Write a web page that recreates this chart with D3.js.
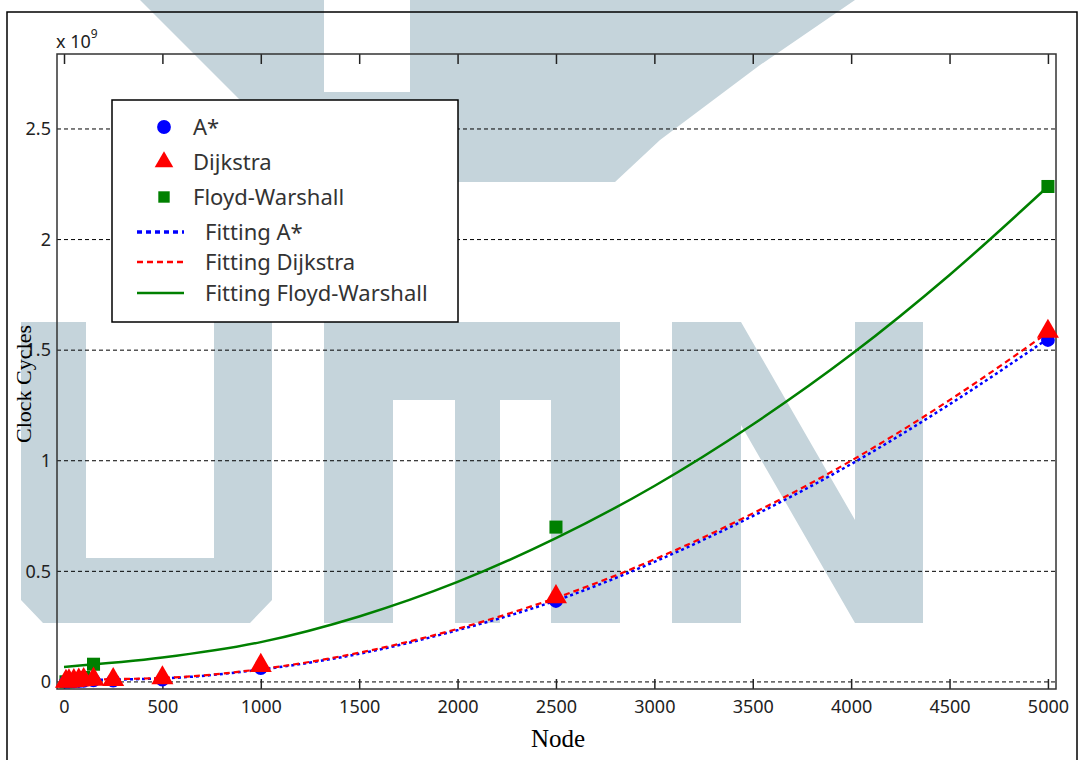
<!DOCTYPE html>
<html>
<head>
<meta charset="utf-8">
<script src="https://cdn.jsdelivr.net/npm/d3@7"></script>
<style>
  body { margin: 0; background: #fff; }
  svg { display: block; }
</style>
</head>
<body>
<div id="chart"></div>
<script>
// measured points (clock cycles, x 1e9)
const nodes = [10, 25, 50, 75, 100, 150, 250, 500, 1000, 2500, 5000];
const astar = [0.001, 0.002, 0.003, 0.004, 0.005, 0.007, 0.006, 0.010, 0.063, 0.366, 1.546];
const dijkstra = [0.002, 0.004, 0.006, 0.008, 0.010, 0.012, 0.010, 0.018, 0.074, 0.385, 1.585];
const fwNodes = [10, 25, 50, 100, 150, 2500, 5000];
const floyd = [0.0005, 0.002, 0.008, 0.020, 0.080, 0.700, 2.240];

// fitted curves
const fitNodes = [0, 500, 1000, 1500, 2000, 2500, 3000, 3500, 4000, 4500, 5000];
const fitAstar = [0.008, 0.016, 0.056, 0.127, 0.234, 0.368, 0.543, 0.750, 0.985, 1.255, 1.552];
const fitDijkstra = [0.010, 0.018, 0.058, 0.132, 0.240, 0.380, 0.554, 0.762, 1.000, 1.274, 1.580];
const fitFloyd = [0.068, 0.110, 0.180, 0.296, 0.452, 0.650, 0.886, 1.164, 1.480, 1.840, 2.240];

const xTicks = [0, 500, 1000, 1500, 2000, 2500, 3000, 3500, 4000, 4500, 5000];
const yTicks = [0, 0.5, 1, 1.5, 2, 2.5];
const yTickLabels = ["0", "0.5", "1", "1.5", "2", "2.5"];

const legendItems = ["A*", "Dijkstra", "Floyd-Warshall", "Fitting A*", "Fitting Dijkstra", "Fitting Floyd-Warshall"];

const W = 1080, H = 760;
const plot = { left: 57, top: 54, right: 1056, bottom: 689 };

const svg = d3.select("#chart").append("svg")
    .attr("width", W)
    .attr("height", H);

svg.append("rect").attr("width", W).attr("height", H).attr("fill", "#fff");

// ---- watermark behind everything ----
const wm = svg.append("g").attr("fill", "#c5d4db");
const wmShapes = [
    [[140,0],[855,0],[760,65],[660,140],[615,182],[350,182],[300,150],[240,100]],
    // U
    [[21,322],[86,322],[86,558],[214,558],[214,322],[272,322],[272,600],[250,623],[43,623],[21,600]],
    // M
    [[324,322],[620,322],[620,623],[551,623],[551,400],[500,400],[500,623],[455,623],[455,400],[393,400],[393,623],[324,623]],
    // N
    [[672,322],[741,322],[855,520],[855,322],[923,322],[923,623],[855,623],[741,425],[741,623],[672,623]]
];
wmShapes.forEach(p => wm.append("path").attr("d", d3.line()(p) + "Z"));
svg.append("rect").attr("x", 324).attr("y", 0).attr("width", 86).attr("height", 92).attr("fill", "#fff");

// outer frame
svg.append("rect")
    .attr("x", 7).attr("y", 12)
    .attr("width", 1070).attr("height", 760)
    .attr("fill", "none")
    .attr("stroke", "#000")
    .attr("stroke-width", 1.5);

const x = d3.scaleLinear().domain([-35.6, 5041]).range([plot.left, plot.right]);
const y = d3.scaleLinear().domain([-0.032, 2.839]).range([plot.bottom, plot.top]);

// dashed grid
svg.append("g").selectAll("line")
    .data(yTicks)
    .join("line")
    .attr("x1", plot.left).attr("x2", plot.right)
    .attr("y1", d => y(d)).attr("y2", d => y(d))
    .attr("stroke", "#000")
    .attr("stroke-width", 1)
    .attr("stroke-dasharray", "4,3");

// axes
const sans = "'Noto Sans', 'Open Sans', sans-serif";
const serif = "'Liberation Serif', 'DejaVu Serif', serif";

const xAxis = svg.append("g")
    .attr("transform", `translate(0,${plot.bottom})`)
    .call(d3.axisBottom(x).tickValues(xTicks).tickSizeInner(-10).tickSizeOuter(0).tickPadding(11).tickFormat(d3.format("d")));
xAxis.select(".domain").remove();
xAxis.selectAll("line").attr("stroke", "#222").attr("stroke-width", 1.5);
xAxis.selectAll("text").attr("font-family", sans).attr("font-size", 18).attr("fill", "#222");

const xTop = svg.append("g")
    .attr("transform", `translate(0,${plot.top})`)
    .call(d3.axisTop(x).tickValues(xTicks).tickSizeInner(-10).tickSizeOuter(0).tickFormat(""));
xTop.select(".domain").remove();
xTop.selectAll("line").attr("stroke", "#222").attr("stroke-width", 1.5);

const yAxis = svg.append("g")
    .attr("transform", `translate(${plot.left},0)`)
    .call(d3.axisLeft(y).tickValues(yTicks).tickSize(0).tickPadding(6).tickFormat((d, i) => yTickLabels[i]));
yAxis.select(".domain").remove();
yAxis.selectAll("text").attr("font-family", sans).attr("font-size", 18).attr("fill", "#222");

// plot frame
svg.append("rect")
    .attr("x", plot.left).attr("y", plot.top)
    .attr("width", plot.right - plot.left).attr("height", plot.bottom - plot.top)
    .attr("fill", "none")
    .attr("stroke", "#333")
    .attr("stroke-width", 1.5);

// exponent label
const expo = svg.append("text")
    .attr("x", 56).attr("y", 48)
    .attr("font-family", sans).attr("font-size", 18).attr("fill", "#222")
    .text("x 10");
expo.append("tspan").attr("dy", -10).attr("font-size", 12).text("9");

// axis titles
svg.append("text")
    .attr("x", 558).attr("y", 747)
    .attr("text-anchor", "middle")
    .attr("font-family", serif).attr("font-size", 25)
    .text("Node");
svg.append("text")
    .attr("transform", "translate(31,384) rotate(-90)")
    .attr("text-anchor", "middle")
    .attr("font-family", serif).attr("font-size", 22)
    .text("Clock Cycles");

// fit lines
const fitLine = d3.line()
    .x(d => x(d[0]))
    .y(d => y(d[1]))
    .curve(d3.curveMonotoneX);

const fits = [
    { v: fitFloyd, color: "#008000", dash: null, w: 2.5 },
    { v: fitAstar, color: "#0000ff", dash: "3,3", w: 2.5 },
    { v: fitDijkstra, color: "#ff0000", dash: "6,4", w: 2.2 }
];
fits.forEach(f => {
    svg.append("path")
        .attr("d", fitLine(fitNodes.map((n, i) => [n, f.v[i]])))
        .attr("fill", "none")
        .attr("stroke", f.color)
        .attr("stroke-width", f.w)
        .attr("stroke-dasharray", f.dash);
});

// markers
const sym = (type, size) => d3.symbol().type(type).size(size)();

svg.append("g").selectAll("path")
    .data(fwNodes.map((n, i) => [n, floyd[i]]))
    .join("path")
    .attr("transform", d => `translate(${x(d[0])},${y(d[1])})`)
    .attr("d", sym(d3.symbolSquare, 170))
    .attr("fill", "#008000");

svg.append("g").selectAll("path")
    .data(nodes.map((n, i) => [n, astar[i]]))
    .join("path")
    .attr("transform", d => `translate(${x(d[0])},${y(d[1])})`)
    .attr("d", sym(d3.symbolCircle, 150))
    .attr("fill", "#0000ff");

svg.append("g").selectAll("path")
    .data(nodes.map((n, i) => [n, dijkstra[i]]))
    .join("path")
    .attr("transform", d => `translate(${x(d[0])},${y(d[1])})`)
    .attr("d", sym(d3.symbolTriangle, 210))
    .attr("fill", "#ff0000");

// legend
const lg = svg.append("g");
lg.append("rect")
    .attr("x", 112).attr("y", 100)
    .attr("width", 346).attr("height", 222)
    .attr("fill", "#fff")
    .attr("stroke", "#000")
    .attr("stroke-width", 1.5);

const rowsY = [127, 162, 197, 232, 262, 293];
const markerDefs = [
    { type: d3.symbolCircle, size: 150, color: "#0000ff" },
    { type: d3.symbolTriangle, size: 150, color: "#ff0000" },
    { type: d3.symbolSquare, size: 130, color: "#008000" }
];
markerDefs.forEach((m, i) => {
    lg.append("path")
        .attr("transform", `translate(164,${rowsY[i]})`)
        .attr("d", sym(m.type, m.size))
        .attr("fill", m.color);
});
const legendLines = [fits[1], fits[2], fits[0]];
legendLines.forEach((f, i) => {
    lg.append("line")
        .attr("x1", 137).attr("x2", 184)
        .attr("y1", rowsY[i + 3]).attr("y2", rowsY[i + 3])
        .attr("stroke", f.color)
        .attr("stroke-width", f.dash === "3,3" ? 3.5 : 2.5)
        .attr("stroke-dasharray", f.dash === "3,3" ? "5,4" : f.dash);
});
lg.selectAll("text")
    .data(legendItems)
    .join("text")
    .attr("x", (d, i) => i < 3 ? 193 : 205)
    .attr("y", (d, i) => rowsY[i])
    .attr("dy", "0.35em")
    .attr("font-family", sans)
    .attr("font-size", 22)
    .attr("fill", "#333")
    .text(d => d);
</script>
</body>
</html>
